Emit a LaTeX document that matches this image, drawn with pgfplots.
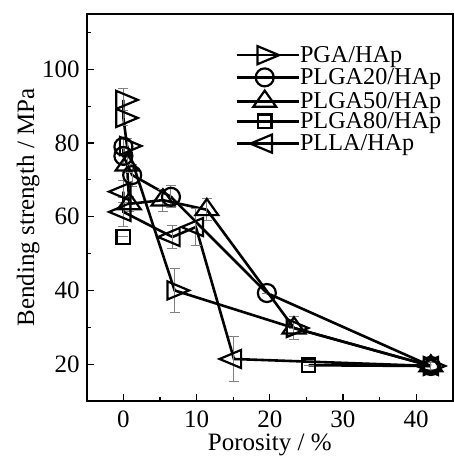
\documentclass[border=0pt]{standalone}
\usepackage{fontspec}
\setmainfont{Liberation Serif}
\usepackage{pgfplots}
\pgfplotsset{compat=1.18}
\begin{document}
\begin{tikzpicture}
\begin{axis}[
 scale only axis, width=183pt, height=193.5pt,
 xmin=-5, xmax=45, ymin=10, ymax=115,
 xtick={0,10,20,30,40}, minor xtick={5,15,25,35},
 ytick={20,40,60,80,100}, minor ytick={30,50,70,90,110},
 tick align=inside, xtick pos=bottom, ytick pos=left,
 major tick length=3.5pt, minor tick length=2pt,
 every tick/.style={black, line width=0.6pt},
 axis line style={line width=0.8pt},
 tick label style={font=\fontsize{12.5}{14}\selectfont},
 xticklabel style={yshift=-1.5pt},
 /pgf/number format/assume math mode=true,
 xlabel={Porosity / \%}, ylabel={Bending strength / MPa},
 label style={font=\fontsize{12.5}{14}\selectfont},
 xlabel style={at={(axis description cs:0.5,-0.1135)}, anchor=center},
 ylabel style={at={(axis description cs:-0.16,0.5)}, anchor=center},
 legend style={at={(0.405,0.918)}, anchor=north west, draw=none, fill=none, inner sep=0pt,
   font=\fontsize{12.1}{12}\selectfont, row sep=0pt,
   nodes={inner sep=0pt, anchor=base west, text height=6pt, text depth=3pt}},
 legend cell align=left,
 legend image code/.code={\draw[mark repeat=2,mark phase=2] plot coordinates {(0pt,3.6pt)(14pt,3.6pt)(28pt,3.6pt)};\path (28pt,3.6pt) -- (31pt,3.6pt);},
 every axis plot/.append style={
   error bars/y dir=both, error bars/y explicit,
   error bars/error bar style={gray, line width=0.5pt},
   error bars/error mark options={gray, line width=0.5pt, mark size=2.5pt, rotate=90}},
]
\addplot[black, line width=1.3pt, mark=triangle, mark size=6pt, mark options={solid, fill=white, line width=1.1pt, xscale=1.2, yscale=0.87, rotate=-90}]
 coordinates {(0,91.7) +- (0,3) (0,86.8) +- (0,2) (0.5,79.2) +- (0,2) (7,40) +- (0,6) (23.3,29.8) +- (0,0) (42,19.5) +- (0,1)};
\addlegendentry{PGA/HAp}
\addplot[black, line width=1.3pt, mark=o, mark size=4.5pt, mark options={solid, fill=white, line width=1.1pt}]
 coordinates {(0,79) +- (0,2) (0,76.5) +- (0,2) (1.2,71.3) +- (0,3) (6.5,65.4) +- (0,3) (19.6,39.3) +- (0,0) (42,19.5) +- (0,1)};
\addlegendentry{PLGA20/HAp}
\addplot[black, line width=1.3pt, mark=triangle, mark size=6pt, mark options={solid, fill=white, line width=1.1pt, xscale=1.1, yscale=0.9}]
 coordinates {(0.5,74) +- (0,2) (0.8,63.5) +- (0,2) (5.4,64.5) +- (0,3) (11.4,61.9) +- (0,3) (23.3,29.8) +- (0,3) (42,19.5) +- (0,1)};
\addlegendentry{PLGA50/HAp}
\addplot[black, line width=1.3pt, mark=square, mark size=3.4pt, mark options={solid, fill=white, line width=1.1pt}, unbounded coords=jump]
 coordinates {(0,54.5) +- (0,0) (5,nan) +- (0,0) (25.3,19.7) +- (0,0) (42,19.5) +- (0,1)};
\addlegendentry{PLGA80/HAp}
\addplot[black, line width=1.3pt, mark=triangle, mark size=6pt, mark options={solid, fill=white, line width=1.1pt, xscale=1.2, yscale=0.87, rotate=90}]
 coordinates {(0,66.8) +- (0,3) (0,61.3) +- (0,4) (6.7,54.5) +- (0,3) (9.9,57.2) +- (0,5) (15.1,21.4) +- (0,6) (42,19.5) +- (0,1)};
\addlegendentry{PLLA/HAp}
\end{axis}
\pgfresetboundingbox
\path ([shift={(-43.4pt,-27.5pt)}]current axis.south west) rectangle ([shift={(0.5pt,7pt)}]current axis.north east);
\end{tikzpicture}
\end{document}
